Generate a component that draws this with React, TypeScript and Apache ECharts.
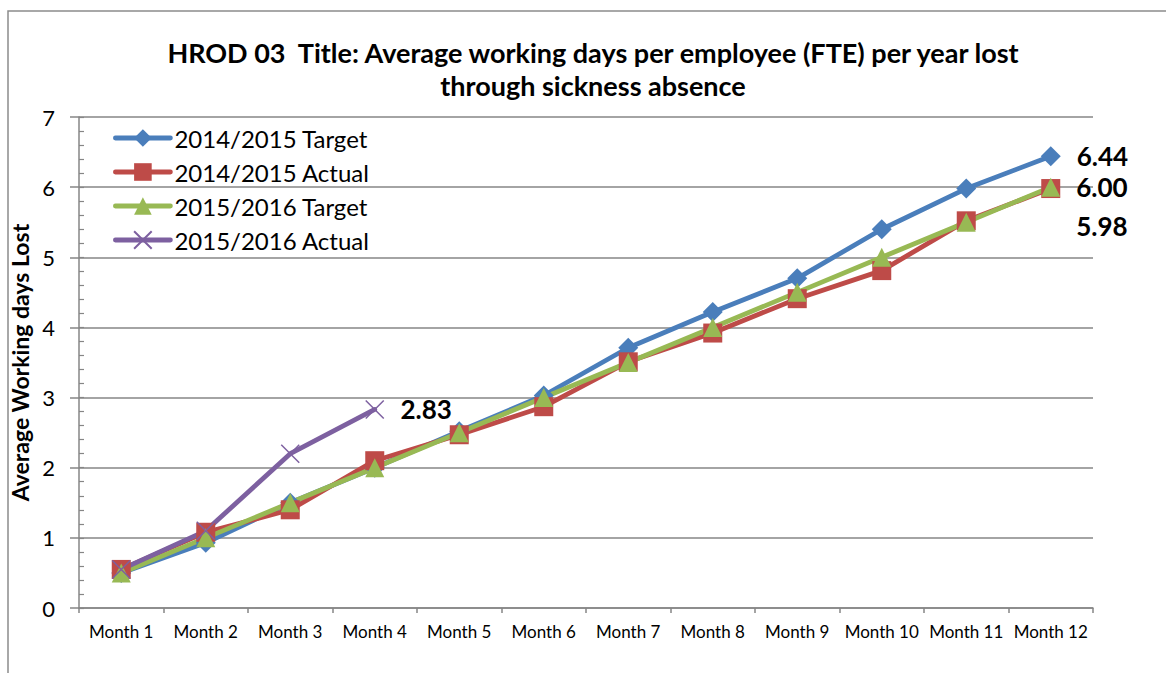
import React, { useEffect, useRef } from "react";
import * as echarts from "echarts";

const months = ["Month 1", "Month 2", "Month 3", "Month 4", "Month 5", "Month 6", "Month 7", "Month 8", "Month 9", "Month 10", "Month 11", "Month 12"];
const target1415 = [0.5, 0.93, 1.5, 2.0, 2.52, 3.03, 3.71, 4.22, 4.7, 5.4, 5.98, 6.44];
const actual1415 = [0.55, 1.08, 1.4, 2.1, 2.47, 2.87, 3.51, 3.92, 4.41, 4.81, 5.52, 5.98];
const target1516 = [0.5, 1.0, 1.5, 2.0, 2.5, 3.0, 3.5, 4.0, 4.5, 5.0, 5.5, 6.0];
const actual1516 = [0.55, 1.1, 2.2, 2.83];
const seriesNames = ["2014/2015 Target", "2014/2015 Actual", "2015/2016 Target", "2015/2016 Actual"];
const titleLines = ["HROD 03  Title: Average working days per employee (FTE) per year lost", "through sickness absence"];
const yAxisName = "Average Working days Lost";

const FONT = "Lato, 'Liberation Sans', sans-serif";
const GRID_COLOR = "#868686";

function withEndLabel(values: number[], offset: number[]) {
  return values.map((v, i) =>
    i === values.length - 1
      ? {
          value: v,
          label: {
            show: true,
            position: "right",
            distance: 16,
            offset,
            formatter: (p: any) => Number(p.value).toFixed(2),
            fontFamily: FONT,
            fontWeight: "bold",
            fontSize: 26,
            color: "#000",
          },
        }
      : v
  );
}

export default function App() {
  const ref = useRef<HTMLDivElement>(null);
  useEffect(() => {
    if (!ref.current) return;
    const chart = echarts.init(ref.current, undefined, { renderer: "svg" });
    const crossPath = "path://M0,0L10,10M10,0L0,10";
    const lineW = 4.8;
    chart.setOption({
      animation: false,
      backgroundColor: "#fff",
      textStyle: { fontFamily: FONT },
      graphic: [
        {
          type: "rect",
          shape: { x: 8, y: 11, width: 1200, height: 700 },
          style: { fill: "none", stroke: "#8c8c8c", lineWidth: 1.5 },
          silent: true,
          z: -10,
        },
        ...titleLines.map((t, i) => ({
          type: "text",
          x: 593,
          y: 52 + i * 33,
          style: {
            text: t,
            fill: "#000",
            font: `bold 27px ${FONT}`,
            textAlign: "center",
            textVerticalAlign: "middle",
          },
        })),
      ],
      legend: {
        orient: "vertical",
        left: 113,
        top: 126,
        padding: 0,
        itemWidth: 55,
        itemHeight: 22,
        itemGap: 10,
        data: seriesNames,
        lineStyle: { width: lineW, cap: "round" },
        textStyle: { fontFamily: FONT, fontSize: 24, color: "#000", padding: [0, 0, 0, -1] },
      },
      grid: { left: 79, right: 73, top: 117, bottom: 65, containLabel: false },
      xAxis: {
        type: "category",
        data: months,
        boundaryGap: true,
        axisLine: { lineStyle: { color: GRID_COLOR, width: 1.5 } },
        axisTick: { show: true, alignWithLabel: false, length: 5, lineStyle: { color: GRID_COLOR, width: 1.5 } },
        axisLabel: { color: "#000", fontSize: 17, margin: 15, fontFamily: FONT, interval: 0 },
      },
      yAxis: [
        {
          type: "value",
          position: "left",
          min: 0,
          max: 7,
          interval: 1,
          name: yAxisName,
          nameLocation: "middle",
          nameGap: 46,
          nameTextStyle: { fontFamily: FONT, fontWeight: "bold", fontSize: 23, color: "#000" },
          axisLine: { show: true, lineStyle: { color: GRID_COLOR, width: 1.5 } },
          axisTick: { show: true, length: 9, lineStyle: { color: GRID_COLOR, width: 1.5 } },
          axisLabel: { color: "#000", fontSize: 22, margin: 24, fontFamily: FONT },
          splitLine: { show: true, lineStyle: { color: GRID_COLOR, width: 1.5 } },
        },
        {
          type: "value",
          position: "left",
          min: 0,
          max: 7,
          interval: 0.2,
          axisLine: { show: false },
          axisTick: { show: true, inside: true, length: 5, lineStyle: { color: GRID_COLOR, width: 1.2 } },
          axisLabel: { show: false },
          splitLine: { show: false },
        },
      ],
      series: [
        {
          name: seriesNames[0],
          type: "line",
          data: withEndLabel(target1415, [0, 0]),
          symbol: "diamond",
          symbolSize: 20,
          color: "#4A7EBB",
          lineStyle: { width: lineW, color: "#4A7EBB", cap: "round" },
          itemStyle: { color: "#4A7EBB" },
        },
        {
          name: seriesNames[1],
          type: "line",
          data: withEndLabel(actual1415, [0, 37]),
          symbol: "rect",
          symbolSize: 19,
          color: "#BE4B48",
          lineStyle: { width: lineW, color: "#BE4B48", cap: "round" },
          itemStyle: { color: "#BE4B48" },
        },
        {
          name: seriesNames[2],
          type: "line",
          data: withEndLabel(target1516, [0, 0]),
          symbol: "triangle",
          symbolSize: 19,
          color: "#98B954",
          lineStyle: { width: lineW, color: "#98B954", cap: "round" },
          itemStyle: { color: "#98B954" },
        },
        {
          name: seriesNames[3],
          type: "line",
          data: withEndLabel(actual1516, [0, 0]),
          symbol: crossPath,
          symbolSize: 18,
          color: "#7D60A0",
          lineStyle: { width: lineW, color: "#7D60A0", cap: "round" },
          itemStyle: { color: "#7D60A0", borderColor: "#7D60A0", borderWidth: 1.5 },
        },
      ],
    });
    return () => chart.dispose();
  }, []);
  return <div ref={ref} style={{ position: "absolute", left: 0, top: 0, width: 1166, height: 673 }} />;
}
